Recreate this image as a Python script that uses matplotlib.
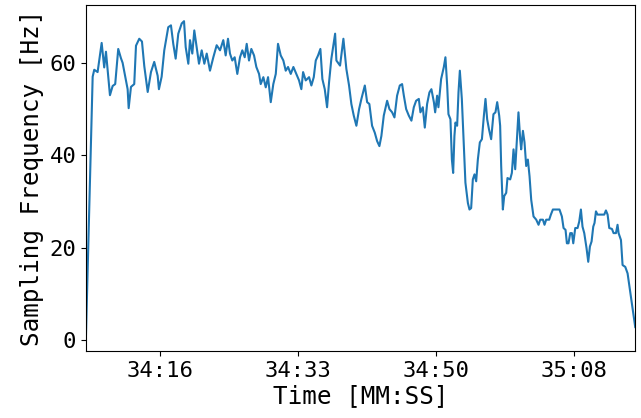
import numpy as np
import matplotlib.pyplot as plt
from matplotlib.ticker import FuncFormatter

# seconds after 34:00 and sampling frequency [Hz]
t_sec = [6.70, 7.55, 7.75, 8.17, 8.68, 9.00, 9.22, 9.72, 10.06, 10.38,
         10.76, 11.10, 11.31, 11.64, 11.94, 12.07, 12.36, 12.77, 12.99, 13.40,
         13.74, 14.03, 14.46, 14.87, 15.28,
         15.71, 15.87, 16.21, 16.54, 17.04, 17.38, 17.67, 17.97, 18.30, 18.73,
         19.02, 19.23, 19.56, 19.77, 20.06, 20.31, 20.61, 20.90, 21.24, 21.57,
         21.87, 22.28, 22.70, 23.12, 23.54, 23.95,
         24.25, 24.54, 24.79, 25.08, 25.38, 25.71, 26.05, 26.34, 26.64, 26.89,
         27.18, 27.47, 27.81, 28.10, 28.44, 28.65, 28.98, 29.28, 29.57, 29.91,
         30.23, 30.54, 30.82, 31.16, 31.49, 31.79, 32.08, 32.42, 32.75,
         33.12, 33.46, 33.75, 33.97, 34.30, 34.72, 35.01, 35.31, 35.56, 35.85,
         36.14, 36.39, 36.69, 36.98, 37.23, 37.52, 37.99, 38.15, 38.61, 39.03,
         39.40, 39.74, 40.03, 40.33, 40.66, 41.00, 41.29,
         41.72, 42.01, 42.29, 42.63, 42.97, 43.26, 43.55, 43.80, 44.10, 44.52,
         44.81, 45.15, 45.44, 45.77, 46.11, 46.40, 46.62, 46.91, 47.24, 47.57,
         47.87, 48.16, 48.50, 48.70, 49.00, 49.25, 49.54, 49.83, 50.08,
         50.39, 50.55, 50.80, 50.96, 51.30, 51.64, 51.84, 52.06, 52.22, 52.47,
         52.65, 52.81, 52.97, 53.10, 53.31, 53.48, 53.65, 53.90, 54.10, 54.35,
         54.66, 54.86, 55.07, 55.28, 55.49, 55.70, 55.91, 56.16, 56.42, 56.67,
         56.87, 57.08, 57.30, 57.58, 57.87, 58.12, 58.34, 58.59, 58.71, 58.84,
         59.05, 59.22, 59.47, 59.63, 59.97, 60.18, 60.39, 60.60, 60.81, 61.01,
         61.23, 61.35, 61.57, 61.77, 61.98, 62.19, 62.40, 62.61, 62.90, 63.24,
         63.53, 63.74, 64.08, 64.28, 64.49, 64.87, 65.08, 65.33, 66.16, 66.46,
         66.67, 66.92, 67.09, 67.29,
         67.51, 67.72, 67.89, 68.14, 68.43, 68.64, 68.85, 69.05, 69.27, 69.56,
         69.77, 69.98, 70.19, 70.40, 70.56, 70.74, 70.94, 71.78, 71.99, 72.20,
         72.41, 72.75, 72.95, 73.25, 73.45, 73.58, 73.88, 74.08, 74.42, 74.71,
         75.67]
freq_hz = [0.5, 57.0, 58.5, 58.0, 64.3, 59.0, 62.4, 53.0, 55.0, 55.4,
           63.0, 61.0, 60.0, 57.0, 54.3, 50.2, 54.8, 55.4, 63.7, 65.2,
           64.6, 59.3, 53.7, 58.0, 60.2,
           57.2, 54.3, 57.0, 62.7, 67.7, 68.1, 64.1, 60.9, 66.3, 68.5,
           69.0, 63.4, 59.8, 64.9, 62.0, 67.0, 63.4, 59.8, 62.7, 59.8,
           62.0, 58.3, 61.2, 63.8, 62.7, 64.9,
           61.6, 65.2, 62.0, 60.5, 61.2, 57.6, 61.2, 62.7, 61.2, 64.1,
           60.5, 63.0, 61.6, 59.1, 57.6, 55.4, 56.9, 54.7, 56.9, 51.5,
           55.4, 57.6, 64.1, 61.6, 60.5, 58.3, 59.1, 57.6, 59.1,
           57.6, 56.2, 54.3, 58.0, 56.2, 56.9, 55.1, 56.9, 60.5, 61.6,
           63.0, 56.5, 54.3, 50.4, 55.8, 60.9, 66.3, 60.5, 59.4, 65.2,
           58.7, 55.1, 51.1, 48.6, 46.4, 50.0, 52.2,
           55.1, 51.5, 51.1, 46.4, 44.9, 43.1, 42.0, 44.2, 48.6, 51.8,
           50.0, 49.3, 48.2, 52.9, 55.1, 55.4, 52.9, 50.0, 48.6, 47.5,
           50.4, 51.8, 52.2, 49.3, 50.4, 46.0, 51.1, 53.6, 54.3,
           51.5, 49.3, 52.9, 50.4, 56.5, 59.1, 61.2, 55.1, 48.9, 47.8,
           39.1, 36.2, 44.2, 47.1, 46.4, 53.6, 58.3, 52.2, 44.2, 34.1,
           29.7, 28.3, 28.6, 34.8, 35.9, 34.4, 39.1, 42.8, 43.5, 48.6,
           52.2, 47.8, 45.7, 43.5, 48.9, 49.3, 51.5, 48.6, 46.4, 37.7,
           28.3, 31.2, 31.9, 35.1, 34.8, 36.2, 41.3, 37.0, 43.5, 49.3,
           43.5, 41.3, 45.3, 42.8, 37.7, 39.1, 35.5, 30.4, 26.8, 26.1,
           25.0, 26.1, 26.1, 25.0, 26.1, 26.1, 27.2, 28.3, 28.3, 26.8,
           24.3, 23.9, 21.0, 21.0,
           23.2, 23.2, 21.0, 24.3, 24.3, 25.7, 28.3, 24.6, 23.2, 19.9,
           17.0, 20.3, 21.4, 24.6, 25.4, 27.9, 27.2, 27.2, 28.1, 27.2,
           24.3, 24.1, 23.2, 23.2, 25.0, 23.2, 21.7, 16.3, 15.9, 14.5,
           2.9]

tick_sec = [16.0, 16.0 + 52 / 3, 16.0 + 104 / 3, 68.0]


def mmss(s, pos):
    s = int(s)
    return "%02d:%02d" % (34 + s // 60, s % 60)


plt.rcParams['font.family'] = ['DejaVu Sans Mono']

fig = plt.figure(figsize=(6.41, 4.18), dpi=100)
ax = fig.add_axes([0.134, 0.160, 0.857, 0.827])
ax.plot(t_sec, freq_hz, color="#1f77b4", lw=1.5)
ax.set_xlim(t_sec[0], t_sec[-1])
ax.set_ylim(-2.3, 72.4)
ax.set_xticks(tick_sec)
ax.xaxis.set_major_formatter(FuncFormatter(mmss))
ax.set_yticks([0, 20, 40, 60])
ax.tick_params(labelsize=16)
ax.set_xlabel("Time [MM:SS]", fontsize=17.5, labelpad=2)
ax.set_ylabel("Sampling Frequency [Hz]", fontsize=17.5, labelpad=4)
fig.savefig("out.png", dpi=100)
